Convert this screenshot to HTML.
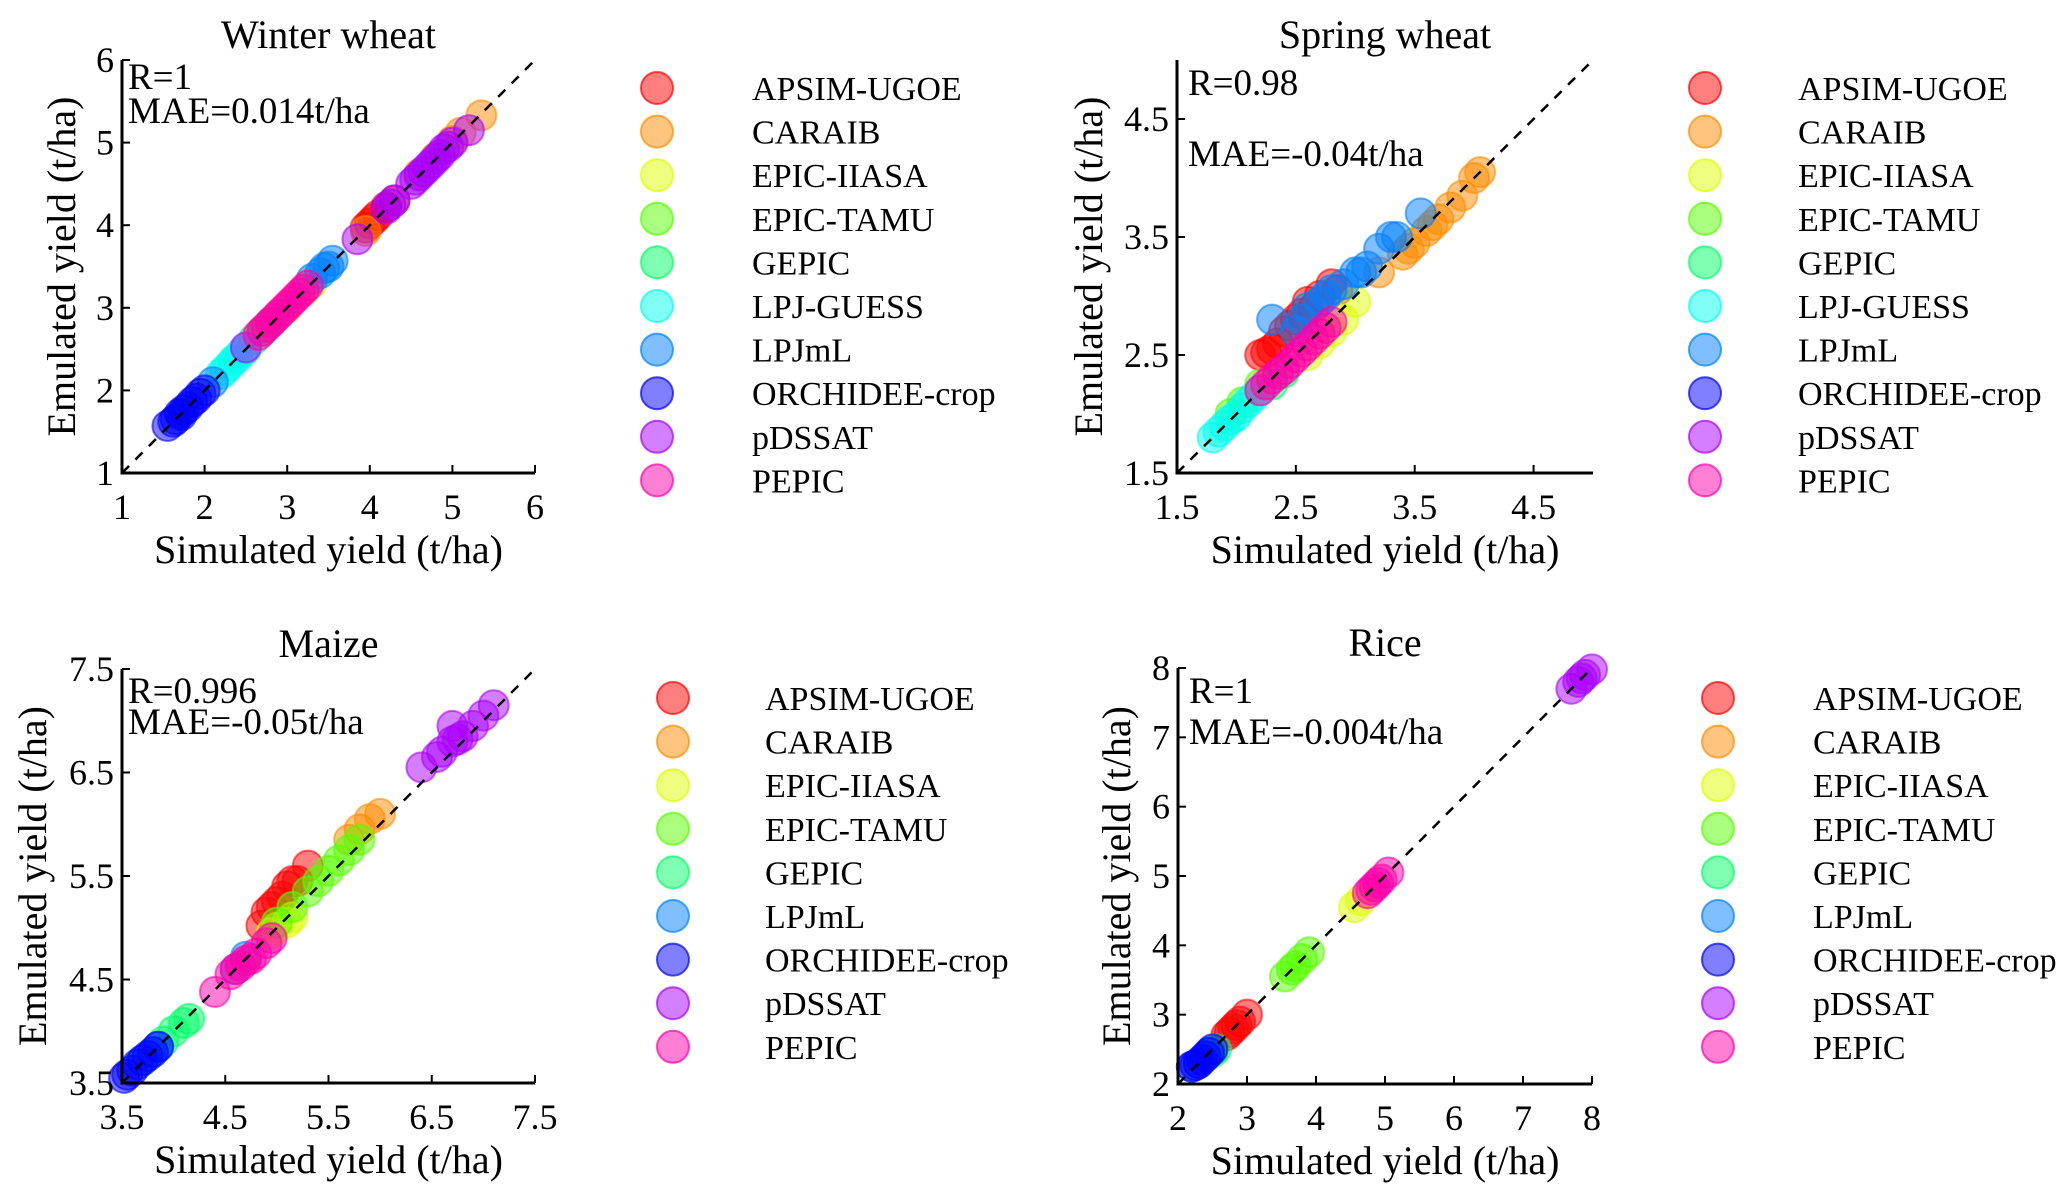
<!DOCTYPE html>
<html><head><meta charset="utf-8"><style>
html,body{margin:0;padding:0;background:#fff;}
svg{display:block;font-family:"Liberation Serif","Times New Roman",serif;}
</style></head><body>
<svg id="fig" width="2067" height="1199" viewBox="0 0 2067 1199" xmlns="http://www.w3.org/2000/svg"></svg>
<script>
const models = ["APSIM-UGOE","CARAIB","EPIC-IIASA","EPIC-TAMU","GEPIC","LPJ-GUESS","LPJmL","ORCHIDEE-crop","pDSSAT","PEPIC"];
const colors = ["#ff0000","#ff8c00","#ddff00","#55ff00","#00ff66","#00ffee","#0080ff","#0000ff","#aa00ff","#ff00aa"];

// Winter wheat
const wwSim = {
 "ORCHIDEE-crop":[1.55,1.62,1.65,1.7,1.72,1.75,1.8,1.85,1.9,1.95,2.0],
 "LPJ-GUESS":[2.2,2.25,2.3,2.35,2.4,2.45,2.5],
 "GEPIC":[2.6,2.7,2.8],
 "EPIC-TAMU":[2.7,2.8,2.9],
 "EPIC-IIASA":[3.0,3.2,3.3],
 "LPJmL":[2.1,3.3,3.4,3.45,3.5,3.55],
 "PEPIC":[2.65,2.7,2.75,2.8,2.85,2.9,2.95,3.0,3.05,3.1,3.15,3.2,3.25],
 "APSIM-UGOE":[3.95,4.0,4.05,4.1,4.2,4.3],
 "CARAIB":[3.95,4.6,4.8,5.0,5.1,5.35],
 "pDSSAT":[2.5,3.85,4.2,4.25,4.3,4.5,4.55,4.6,4.65,4.7,4.75,4.8,4.85,4.9,4.95,5.0,5.2]
};
const wwEmu = {
 "ORCHIDEE-crop":[1.57,1.62,1.65,1.72,1.7,1.76,1.8,1.86,1.9,1.96,2.0],
 "LPJ-GUESS":[2.2,2.25,2.3,2.36,2.4,2.46,2.5],
 "GEPIC":[2.62,2.72,2.82],
 "EPIC-TAMU":[2.72,2.82,2.92],
 "EPIC-IIASA":[3.0,3.2,3.3],
 "LPJmL":[2.1,3.35,3.42,3.48,3.5,3.57],
 "PEPIC":[2.67,2.72,2.77,2.82,2.87,2.92,2.97,3.02,3.07,3.12,3.17,3.22,3.27],
 "APSIM-UGOE":[3.97,4.02,4.07,4.12,4.22,4.3],
 "CARAIB":[3.93,4.62,4.82,5.02,5.12,5.33],
 "pDSSAT":[2.52,3.83,4.2,4.25,4.3,4.5,4.55,4.6,4.65,4.7,4.75,4.8,4.85,4.92,4.95,5.0,5.15]
};
// Spring wheat
const swSim = {
 "LPJ-GUESS":[1.8,1.85,1.9,1.95,2.0,2.05,2.1,2.15,2.2],
 "EPIC-TAMU":[1.95,2.05,2.2],
 "GEPIC":[2.3,2.4],
 "APSIM-UGOE":[2.2,2.25,2.3,2.35,2.4,2.45,2.5,2.55,2.6,2.65,2.7,2.8,2.85],
 "EPIC-IIASA":[2.6,2.7,2.8,2.9,3.0],
 "LPJmL":[2.3,2.5,2.55,2.6,2.7,2.75,2.8,2.9,3.0,3.05,3.1,3.2,3.3,3.35,3.55],
 "CARAIB":[3.2,3.4,3.45,3.5,3.6,3.65,3.7,3.8,3.9,4.0,4.05],
 "PEPIC":[2.2,2.25,2.3,2.35,2.4,2.45,2.5,2.55,2.6,2.65,2.7,2.75,2.8]
};
const swEmu = {
 "LPJ-GUESS":[1.8,1.85,1.9,1.95,1.98,2.05,2.1,2.15,2.2],
 "EPIC-TAMU":[2.0,2.1,2.25],
 "GEPIC":[2.25,2.35],
 "APSIM-UGOE":[2.5,2.52,2.55,2.6,2.7,2.75,2.8,2.85,2.95,2.9,3.0,3.1,3.05],
 "EPIC-IIASA":[2.5,2.6,2.7,2.8,2.95],
 "LPJmL":[2.8,2.7,2.8,2.9,2.95,3.0,3.05,3.1,3.2,3.2,3.25,3.4,3.5,3.5,3.7],
 "CARAIB":[3.2,3.35,3.4,3.45,3.55,3.6,3.65,3.75,3.85,4.0,4.05],
 "PEPIC":[2.2,2.25,2.3,2.34,2.38,2.43,2.48,2.53,2.58,2.63,2.68,2.73,2.78]
};
// Maize
const mzSim = {
 "ORCHIDEE-crop":[3.52,3.55,3.6,3.65,3.7,3.75,3.8,3.85],
 "GEPIC":[3.7,3.8,3.9,4.0,4.1,4.15],
 "LPJmL":[3.85,4.6,4.7],
 "PEPIC":[4.4,4.55,4.6,4.65,4.7,4.75,4.8,4.9,4.95],
 "APSIM-UGOE":[4.85,4.9,4.95,5.0,5.05,5.1,5.15,5.2,5.3],
 "EPIC-IIASA":[4.95,5.0,5.1,5.15],
 "EPIC-TAMU":[5.0,5.15,5.3,5.4,5.5,5.6,5.7,5.8],
 "CARAIB":[5.7,5.8,5.9,6.0],
 "pDSSAT":[6.4,6.55,6.6,6.7,6.75,6.8,6.9,7.0,7.1,6.7]
};
const mzEmu = {
 "ORCHIDEE-crop":[3.55,3.58,3.62,3.68,3.72,3.76,3.8,3.85],
 "GEPIC":[3.72,3.8,3.9,4.0,4.08,4.12],
 "LPJmL":[3.85,4.6,4.72],
 "PEPIC":[4.38,4.55,4.6,4.63,4.68,4.7,4.75,4.85,4.9],
 "APSIM-UGOE":[5.02,5.15,5.2,5.25,5.3,5.4,5.45,5.45,5.6],
 "EPIC-IIASA":[4.95,5.0,5.05,5.1],
 "EPIC-TAMU":[5.05,5.2,5.35,5.45,5.55,5.65,5.75,5.85],
 "CARAIB":[5.85,5.95,6.05,6.1],
 "pDSSAT":[6.55,6.65,6.7,6.8,6.82,6.85,6.95,7.05,7.15,6.95]
};
// Rice
const rcSim = {
 "GEPIC":[2.45,2.55],
 "EPIC-TAMU":[2.5,3.55,3.65,3.7,3.8,3.9],
 "LPJmL":[2.2,2.3],
 "ORCHIDEE-crop":[2.2,2.25,2.3,2.35,2.4,2.45,2.5],
 "APSIM-UGOE":[2.7,2.75,2.8,2.85,2.9,3.0],
 "EPIC-IIASA":[4.55,4.65],
 "PEPIC":[4.75,4.8,4.85,4.9,4.95,5.05],
 "pDSSAT":[7.7,7.8,7.85,7.9,8.0]
};
const rcEmu = {
 "GEPIC":[2.45,2.5],
 "EPIC-TAMU":[2.45,3.55,3.65,3.7,3.8,3.9],
 "LPJmL":[2.25,2.3],
 "ORCHIDEE-crop":[2.25,2.27,2.3,2.35,2.4,2.45,2.5],
 "APSIM-UGOE":[2.7,2.75,2.8,2.85,2.9,3.0],
 "EPIC-IIASA":[4.55,4.65],
 "PEPIC":[4.75,4.8,4.85,4.9,4.95,5.05],
 "pDSSAT":[7.7,7.8,7.85,7.9,7.98]
};
const wwTicks=[1,2,3,4,5,6], swTicks=[1.5,2.5,3.5,4.5], mzTicks=[3.5,4.5,5.5,6.5,7.5], rcTicks=[2,3,4,5,6,7,8];

const NS="http://www.w3.org/2000/svg";
const svg=document.getElementById("fig");
function mk(tag,attrs,parent,text){const e=document.createElementNS(NS,tag);for(const k in attrs)e.setAttribute(k,attrs[k]);if(text!==undefined)e.textContent=text;(parent||svg).appendChild(e);return e;}

const panels=[
 {id:"winter-wheat",title:"Winter wheat",L:122,R:535,T:60,B:473,min:1,max:6,ticks:wwTicks,sim:wwSim,emu:wwEmu,
  r:"R=1",mae:"MAE=0.014t/ha",rY:89,maeY:123,annX:128,ylabX:66,legCx:657,legTx:752,legY:88,legModels:models},
 {id:"spring-wheat",title:"Spring wheat",L:1177,R:1593,T:60,B:473,min:1.5,max:5,ticks:swTicks,sim:swSim,emu:swEmu,
  r:"R=0.98",mae:"MAE=-0.04t/ha",rY:95,maeY:166,annX:1188,ylabX:1093,legCx:1705,legTx:1798,legY:88,legModels:models},
 {id:"maize",title:"Maize",L:122,R:535,T:669,B:1083,min:3.5,max:7.5,ticks:mzTicks,sim:mzSim,emu:mzEmu,
  r:"R=0.996",mae:"MAE=-0.05t/ha",rY:703,maeY:734,annX:128,ylabX:37,legCx:673,legTx:765,legY:698,legModels:models.filter(m=>m!=="LPJ-GUESS")},
 {id:"rice",title:"Rice",L:1178,R:1592,T:668,B:1084,min:2,max:8,ticks:rcTicks,sim:rcSim,emu:rcEmu,
  r:"R=1",mae:"MAE=-0.004t/ha",rY:703,maeY:744,annX:1189,ylabX:1121,legCx:1718,legTx:1813,legY:698,legModels:models.filter(m=>m!=="LPJ-GUESS")}
];

panels.forEach(p=>{
 const g=mk("g",{});
 
 
 const sx=v=>p.L+(v-p.min)/(p.max-p.min)*(p.R-p.L);
 const sy=v=>p.B-(v-p.min)/(p.max-p.min)*(p.B-p.T);
 const t=mk("text",{x:(p.L+p.R)/2,y:p.T-12,"font-size":40,"text-anchor":"middle",fill:"#000"},g,p.title);
 
 
 const pg=mk("g",{},g);
 
 
 models.forEach((m,i)=>{
  const xs=p.sim[m], ys=p.emu[m]; if(!xs) return;
  xs.forEach((xv,j)=>{
   const c=mk("circle",{cx:sx(xv),cy:sy(ys[j]),r:15,fill:colors[i],"fill-opacity":0.5,stroke:colors[i],"stroke-opacity":0.6,"stroke-width":2},pg);
   
   
  });
 });
 const l=mk("line",{x1:sx(p.min),y1:sy(p.min),x2:sx(p.max),y2:sy(p.max),stroke:"#000","stroke-width":2.5,"stroke-dasharray":"10,9"},g);
 
 
 const ax=mk("path",{d:`M${p.L},${p.T}V${p.B}H${p.R}`,fill:"none",stroke:"#000","stroke-width":3},g);
 
 
 p.ticks.forEach(tv=>{
  mk("line",{x1:sx(tv),y1:p.B,x2:sx(tv),y2:p.B-8,stroke:"#000","stroke-width":2},g);
  mk("line",{x1:p.L,y1:sy(tv),x2:p.L+8,y2:sy(tv),stroke:"#000","stroke-width":2},g);
  const xt=mk("text",{x:sx(tv),y:p.B+46,"font-size":36,"text-anchor":"middle"},g,String(tv));
  
  
  const yt=mk("text",{x:p.L-8,y:sy(tv)+12,"font-size":36,"text-anchor":"end"},g,String(tv));
  
  
 });
 const xl=mk("text",{x:(p.L+p.R)/2,y:p.B+90,"font-size":40,"text-anchor":"middle"},g,"Simulated yield (t/ha)");
 
 
 const cy=(p.T+p.B)/2;
 const yl=mk("text",{x:p.ylabX,y:cy,"font-size":40,"text-anchor":"middle",transform:`rotate(-90 ${p.ylabX} ${cy})`,"dominant-baseline":"middle"},g,"Emulated yield (t/ha)");
 
 
 const a1=mk("text",{x:p.annX,y:p.rY,"font-size":37},g,p.r);
 
 
 const a2=mk("text",{x:p.annX,y:p.maeY,"font-size":37},g,p.mae);
 
 
 const lg=mk("g",{},g);
 
 
 p.legModels.forEach((m,k)=>{
  const i=models.indexOf(m);
  const y=p.legY+k*43.6;
  const c=mk("circle",{cx:p.legCx,cy:y,r:16,fill:colors[i],"fill-opacity":0.5,stroke:colors[i],"stroke-opacity":0.7,"stroke-width":2},lg);
  
  
  const tx=mk("text",{x:p.legTx,y:y+12,"font-size":34},lg,m);
  
  
 });
});
</script>
</body></html>
